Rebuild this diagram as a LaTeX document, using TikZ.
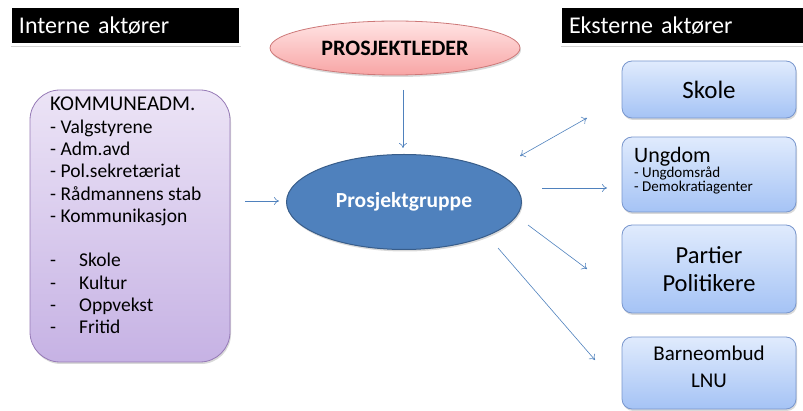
\documentclass[tikz,border=0pt]{standalone}
\usepackage{fontspec}
\setmainfont{Carlito}
\usetikzlibrary{shapes.geometric,shadows,arrows.meta}
\definecolor{arrowblue}{RGB}{79,129,189}
\definecolor{pgfill}{RGB}{79,129,189}
\definecolor{pgborder}{RGB}{56,93,138}
\definecolor{pinktop}{RGB}{255,228,228}
\definecolor{pinkbot}{RGB}{248,165,165}
\definecolor{pinkborder}{RGB}{205,120,120}
\definecolor{lavtop}{RGB}{236,228,246}
\definecolor{lavbot}{RGB}{198,178,228}
\definecolor{lavborder}{RGB}{150,122,182}
\definecolor{bluetop}{RGB}{224,235,253}
\definecolor{bluebot}{RGB}{165,195,245}
\definecolor{blueborder}{RGB}{120,150,205}
\tikzset{
  conn/.style={draw=arrowblue, line width=0.6pt, -{To[length=5pt,width=8pt]}},
  conn2/.style={draw=arrowblue, line width=0.6pt, {To[length=5pt,width=8pt]}-{To[length=5pt,width=8pt]}},
  header/.style={fill=black, text=white, draw=white, line width=3pt, inner sep=0pt,
     minimum height=38pt, anchor=west, font=\fontsize{24}{26}\selectfont,
     drop shadow={shadow xshift=1pt, shadow yshift=-2pt, opacity=0.35}},
  extbox/.style={draw=blueborder, line width=0.8pt, rounded corners=10pt,
     top color=bluetop, bottom color=bluebot, minimum width=174pt,
     drop shadow={shadow xshift=1pt, shadow yshift=-2pt, opacity=0.3}, align=center},
}
\begin{document}
\begin{tikzpicture}[x=1pt,y=-1pt]
\useasboundingbox (0,0) rectangle (803,411);
% headers
\node[header, minimum width=230pt, text width=220pt, align=left] (intern) at (8.5,26) {\hspace*{4pt}Interne aktører};
\node[header, minimum width=250pt, text width=240pt, align=left] (extern) at (558.5,26) {\hspace*{4pt}Eksterne aktører};
% Prosjektleder
\node[ellipse, draw=pinkborder, line width=0.8pt, top color=pinktop, bottom color=pinkbot,
  minimum width=250pt, minimum height=54pt, inner sep=0pt,
  drop shadow={shadow xshift=1pt, shadow yshift=-2pt, opacity=0.3},
  font=\fontsize{22}{24}\selectfont\bfseries] (pl) at (395,48) {PROSJEKTLEDER};
% Prosjektgruppe
\node[ellipse, draw=pgborder, line width=1pt, fill=pgfill,
  minimum width=235pt, minimum height=95pt, inner sep=0pt, text=white,
  drop shadow={shadow xshift=1pt, shadow yshift=-2pt, opacity=0.3},
  font=\fontsize{21.5}{24}\selectfont\bfseries] (pg) at (404,202) {Prosjektgruppe};
% Kommuneadm box
\node[draw=lavborder, line width=0.8pt, rounded corners=30pt, top color=lavtop, bottom color=lavbot,
  minimum width=200pt, minimum height=272pt, inner sep=0pt,
  drop shadow={shadow xshift=1pt, shadow yshift=-2pt, opacity=0.3}] (adm) at (130,226) {};
\node[anchor=north west, align=left, inner sep=0pt, font=\fontsize{19.5}{22.3}\selectfont] (admtext) at (50,97)
{\fontsize{21}{22.3}\selectfont KOMMUNEADM.\\
- Valgstyrene\\
- Adm.avd\\
- Pol.sekretæriat\\
- Rådmannens stab\\
- Kommunikasjon\\[22.3pt]
-\hspace{23pt}Skole\\
-\hspace{23pt}Kultur\\
-\hspace{23pt}Oppvekst\\
-\hspace{23pt}Fritid};
% external boxes
\node[extbox, minimum height=57pt, font=\fontsize{25}{28}\selectfont] (skole) at (709,89.5) {Skole};
\node[extbox, minimum height=75pt] (ungdom) at (709,174.5) {};
\node[anchor=north west, align=left, inner sep=0pt] (ungtext) at (634,147)
{{\fontsize{22}{20}\selectfont Ungdom}\\[0pt]
{\fontsize{15}{18}\selectfont - Ungdomsråd}\\
{\fontsize{15}{18}\selectfont - Demokratiagenter}};
\node[extbox, minimum height=88pt, font=\fontsize{24.5}{28}\selectfont] (partier) at (709,269) {Partier\\Politikere};
\node[extbox, minimum height=72pt] (barne) at (709,373) {};
\node[align=center, inner sep=0pt, font=\fontsize{21}{27}\selectfont] (barnetext) at (709,367) {Barneombud\\LNU};
% connector endpoints
\coordinate (plout) at (403,90);
\coordinate (pgin) at (403,148);
\coordinate (admout) at (245,201);
\coordinate (pgleft) at (279,201);
\coordinate (d1) at (520,156);
\coordinate (d2) at (587,118);
\coordinate (u1) at (542,188);
\coordinate (u2) at (607,188);
\coordinate (p1) at (528,225);
\coordinate (p2) at (587,269);
\coordinate (b1) at (498,248);
\coordinate (b2) at (595,360);
\draw[conn] (plout) -- (pgin);
\draw[conn] (admout) -- (pgleft);
\draw[conn2] (d1) -- (d2);
\draw[conn] (u1) -- (u2);
\draw[conn] (p1) -- (p2);
\draw[conn] (b1) -- (b2);
\end{tikzpicture}
\end{document}
